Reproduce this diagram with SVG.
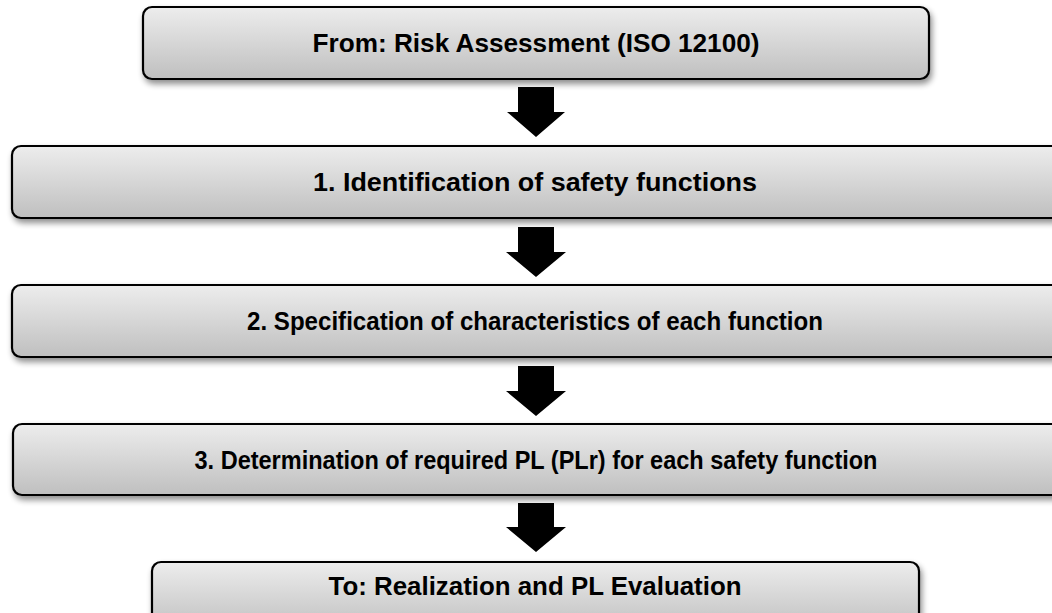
<svg xmlns="http://www.w3.org/2000/svg" width="1052" height="613" viewBox="0 0 1052 613">
<defs>
<linearGradient id="g" x1="0" y1="0" x2="0" y2="1">
<stop offset="0" stop-color="#ededed"/>
<stop offset="1" stop-color="#bfbfbf"/>
</linearGradient>
<filter id="sh" x="-5%" y="-20%" width="110%" height="150%">
<feGaussianBlur in="SourceAlpha" stdDeviation="3"/>
<feOffset dx="2" dy="4" result="b"/>
<feComponentTransfer><feFuncA type="linear" slope="0.45"/></feComponentTransfer>
<feMerge><feMergeNode/><feMergeNode in="SourceGraphic"/></feMerge>
</filter>
</defs>
<style>
.box{fill:url(#g);stroke:#000;stroke-width:2.2;filter:url(#sh)}
.t{font-family:"Liberation Sans Narrow","Liberation Sans",Arial,sans-serif;font-weight:bold;font-size:26px;fill:#000;text-anchor:middle}
.arr{fill:#000}
</style>
<rect width="1052" height="613" fill="#fff"/>
<g id="n0"><rect class="box" x="143" y="7" width="786" height="72" rx="9"/><text class="t" x="536" y="52" textLength="447" lengthAdjust="spacingAndGlyphs">From: Risk Assessment (ISO 12100)</text></g>
<g id="n1"><rect class="box" x="12" y="146" width="1050" height="72" rx="9"/><text class="t" x="535" y="191" textLength="444" lengthAdjust="spacingAndGlyphs">1. Identification of safety functions</text></g>
<g id="n2"><rect class="box" x="12" y="285" width="1050" height="72" rx="9"/><text class="t" x="535" y="330" textLength="576" lengthAdjust="spacingAndGlyphs">2. Specification of characteristics of each function</text></g>
<g id="n3"><rect class="box" x="13" y="424" width="1050" height="71" rx="9"/><text class="t" x="536" y="469" textLength="683" lengthAdjust="spacingAndGlyphs">3. Determination of required PL (PLr) for each safety function</text></g>
<g id="n4"><rect class="box" x="152" y="562" width="767" height="70" rx="9"/><text class="t" x="535" y="595" textLength="413" lengthAdjust="spacingAndGlyphs">To: Realization and PL Evaluation</text></g>
<g id="connectors">
<polygon class="arr" points="518,87 554,87 554,112 565,112 536,137 507,112 518,112"/>
<polygon class="arr" points="518,227 554,227 554,252 566,252 536,277 506,252 518,252"/>
<polygon class="arr" points="518,366 554,366 554,391 566,391 536,416 506,391 518,391"/>
<polygon class="arr" points="518,503 554,503 554,527 566,527 536,552 506,527 518,527"/>
</g>
</svg>
